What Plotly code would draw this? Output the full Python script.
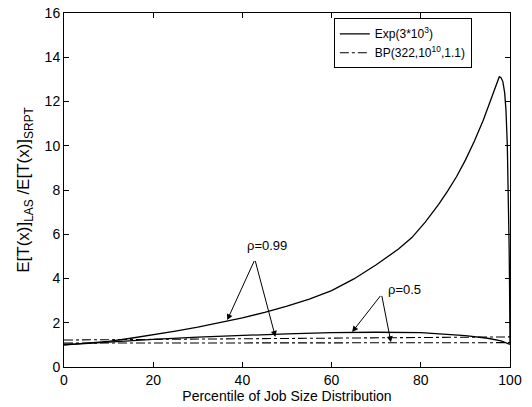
import plotly.graph_objects as go

# Exponential job sizes, rho = 0.99 (solid)
exp99_x = [0, 5, 10, 15, 20, 25, 30, 35, 40, 45, 50, 55, 60, 65, 70, 75, 78, 81, 84, 86, 88, 90, 92, 94, 95.5, 96.5, 97.2, 97.6, 98.0, 98.4, 98.8, 99.1, 99.4, 99.6, 99.8, 99.9, 100]
exp99_y = [1.0, 1.07, 1.16, 1.3, 1.45, 1.62, 1.8, 2.0, 2.22, 2.47, 2.75, 3.07, 3.45, 3.98, 4.62, 5.33, 5.85, 6.55, 7.35, 7.95, 8.6, 9.35, 10.2, 11.15, 11.95, 12.5, 12.95, 13.12, 13.08, 12.9, 12.4, 11.6, 10.0, 8.3, 5.5, 3.7, 1.05]

# Exponential job sizes, rho = 0.5 (solid)
exp50_x = [0, 5, 10, 20, 30, 40, 50, 60, 70, 80, 85, 90, 95, 98, 100]
exp50_y = [1.0, 1.07, 1.14, 1.25, 1.35, 1.43, 1.5, 1.55, 1.57, 1.55, 1.5, 1.42, 1.3, 1.18, 1.02]

# Bounded Pareto job sizes (dash-dot)
bp_x = [0, 20, 40, 60, 80, 100]
bp99_y = [1.22, 1.25, 1.28, 1.31, 1.34, 1.36]
bp50_y = [1.08, 1.09, 1.1, 1.1, 1.11, 1.1]

x_ticks = [0, 20, 40, 60, 80, 100]
y_ticks = [0, 2, 4, 6, 8, 10, 12, 14, 16]

FONT = "Liberation Sans, Arial, sans-serif"

fig = go.Figure()
fig.add_trace(go.Scatter(x=exp99_x, y=exp99_y, mode="lines", name="Exp(3*10<sup>3</sup>)",
                         line=dict(color="black", width=1.3)))
fig.add_trace(go.Scatter(x=bp_x, y=bp99_y, mode="lines", name="BP(322,10<sup>10</sup>,1.1)",
                         line=dict(color="black", width=1.1, dash="dashdot")))
fig.add_trace(go.Scatter(x=exp50_x, y=exp50_y, mode="lines", showlegend=False,
                         line=dict(color="black", width=1.3)))
fig.add_trace(go.Scatter(x=bp_x, y=bp50_y, mode="lines", showlegend=False,
                         line=dict(color="black", width=1.1, dash="dashdot")))

# annotations: arrows from apex to the curves
arrows = [
    ((42.8, 4.86), (36.6, 2.12)),
    ((42.8, 4.86), (47.4, 1.36)),
    ((71.2, 3.28), (64.6, 1.58)),
    ((71.2, 3.28), (73.3, 1.12)),
]
for (ax_, ay_), (tx, ty) in arrows:
    fig.add_annotation(x=tx, y=ty, ax=ax_, ay=ay_, axref="x", ayref="y", xref="x", yref="y",
                       text="", showarrow=True, arrowhead=2, arrowsize=1.2, arrowwidth=1,
                       arrowcolor="black")
fig.add_annotation(x=45.5, y=5.5, text="ρ=0.99", showarrow=False,
                   font=dict(family=FONT, size=13, color="black"))
fig.add_annotation(x=76.3, y=3.5, text="ρ=0.5", showarrow=False,
                   font=dict(family=FONT, size=13, color="black"))

axis_common = dict(showline=True, linecolor="black", linewidth=1, mirror="allticks",
                   ticks="inside", ticklen=5, tickcolor="black", showgrid=False, zeroline=False,
                   automargin=False,
                   tickfont=dict(family=FONT, size=14, color="black"))

fig.update_xaxes(range=[0, 100], tickvals=x_ticks, ticktext=[str(v) for v in x_ticks],
                 title=dict(text="Percentile of Job Size Distribution", standoff=0,
                            font=dict(family=FONT, size=14, color="black")),
                 **axis_common)
fig.update_yaxes(range=[0, 16], tickvals=y_ticks, ticktext=[str(v) for v in y_ticks],
                 title=dict(text="E[T(x)]<sub>LAS</sub> /E[T(x)]<sub>SRPT</sub>", standoff=10,
                            font=dict(family=FONT, size=17, color="black")),
                 **axis_common)

fig.update_layout(
    width=532, height=407,
    margin=dict(l=64, r=22, t=13, b=40),
    paper_bgcolor="white", plot_bgcolor="white",
    font=dict(family=FONT, size=13, color="black"),
    legend=dict(x=0.605, y=0.985, xanchor="left", yanchor="top",
                bordercolor="black", borderwidth=1, bgcolor="white",
                font=dict(family=FONT, size=12, color="black"),
                tracegroupgap=0, itemwidth=30),
)

fig.write_html("out.html", config={"displayModeBar": False},
               post_script="document.body.style.margin='0';document.body.style.overflow='hidden';")
